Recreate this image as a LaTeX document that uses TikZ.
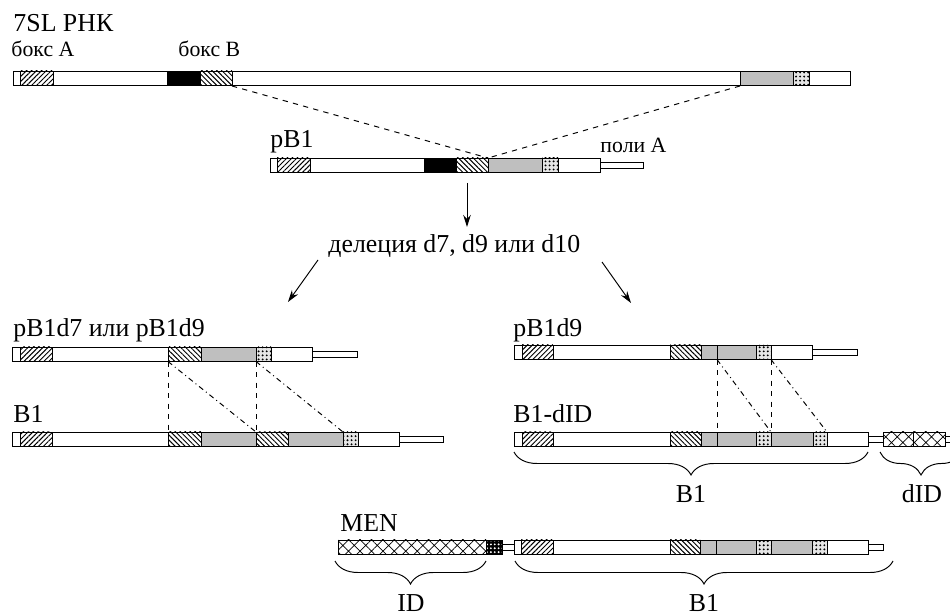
\documentclass[tikz,border=0pt]{standalone}
\usepackage{fontspec}
\setmainfont{Liberation Serif}
\usetikzlibrary{patterns,patterns.meta,arrows.meta,decorations.pathreplacing}
\newcommand{\segm}[4]{\draw[#1] (#2,#4) rectangle (#3,#4+14.5);}
\newcommand{\tailm}[3]{\draw[fill=white] (#1,#3+4) rectangle (#2,#3+10.5);}
\begin{document}
\begin{tikzpicture}[x=0.02cm,y=-0.02cm,line width=0.55pt,
  big/.style={font=\fontsize{14.7}{16}\selectfont,anchor=base west,inner sep=0pt},
  small/.style={font=\fontsize{12.4}{14}\selectfont,anchor=base west,inner sep=0pt},
  wht/.style={fill=white},
  boxa/.style={preaction={fill=white},pattern={Lines[angle=45,distance=2pt,line width=0.55pt]}},
  boxb/.style={preaction={fill=white},pattern={Lines[angle=-45,distance=2pt,line width=0.55pt]}},
  blk/.style={fill=black},
  gry/.style={fill=gray!50},
  dts/.style={preaction={fill=gray!20},pattern={Dots[distance=2.3pt,radius=0.6pt]}},
  idx/.style={preaction={fill=white},pattern={Hatch[angle=45,distance=4.6pt,line width=0.4pt]}},
  chk/.style={preaction={fill=black},pattern={Dots[distance=2.2pt,radius=0.6pt]},pattern color=white},
  brc/.style={decorate,decoration={brace,mirror,amplitude=0.46cm}},
  arr/.style={-{Stealth[length=2.4mm,width=1.5mm]}}]
\useasboundingbox (0,0) rectangle (950,614);

\node[big] (rna) at (13,32) {7SL РНК};
\node[small] (boxA) at (11,57) {бокс А};
\node[small] (boxB) at (178,57) {бокс В};
\segm{wht}{13}{20}{71}
\segm{boxa}{20}{53}{71}
\segm{wht}{53}{167}{71}
\segm{blk}{167}{200}{71}
\segm{boxb}{200}{232}{71}
\segm{wht}{232}{740}{71}
\segm{gry}{740}{793}{71}
\segm{dts}{793}{809}{71}
\segm{wht}{809}{850}{71}
\coordinate (rnaB) at (232,86);
\coordinate (rnaG) at (740,86);

\node[big] (pb1) at (270,148) {pB1};
\node[small] (polyA) at (600,153) {поли А};
\segm{wht}{270}{277}{158}
\segm{boxa}{277}{310}{158}
\segm{wht}{310}{424}{158}
\segm{blk}{424}{456}{158}
\segm{boxb}{456}{488}{158}
\segm{gry}{488}{542}{158}
\segm{dts}{542}{558}{158}
\segm{wht}{558}{600}{158}
\tailm{600}{643}{158}
\coordinate (pb1J) at (488,158);
\draw[dashed] (rnaB) -- (pb1J);
\draw[dashed] (rnaG) -- (pb1J);

\node[big] (del) at (328,253) {делеция d7, d9 или d10};
\coordinate (downA) at (467,183);
\coordinate (downB) at (467,227);
\coordinate (leftA) at (318,260);
\coordinate (leftB) at (288,302);
\coordinate (rightA) at (602,262);
\coordinate (rightB) at (631,303);
\draw[arr] (downA) -- (downB);
\draw[arr] (leftA) -- (leftB);
\draw[arr] (rightA) -- (rightB);

\node[big] (d7) at (13,337) {pB1d7 или pB1d9};
\segm{wht}{12}{20}{347}
\segm{boxa}{20}{52}{347}
\segm{wht}{52}{168}{347}
\segm{boxb}{168}{201}{347}
\segm{gry}{201}{256}{347}
\segm{dts}{256}{271}{347}
\segm{wht}{271}{312}{347}
\tailm{312}{357}{347}

\node[big] (b1l) at (13,423) {B1};
\segm{wht}{12}{20}{432}
\segm{boxa}{20}{52}{432}
\segm{wht}{52}{168}{432}
\segm{boxb}{168}{201}{432}
\segm{gry}{201}{256}{432}
\segm{boxb}{256}{288}{432}
\segm{gry}{288}{343}{432}
\segm{dts}{343}{358}{432}
\segm{wht}{358}{399}{432}
\tailm{399}{443}{432}
\coordinate (l1) at (168,361.5);
\coordinate (l2) at (256,361.5);
\coordinate (l3) at (168,432);
\coordinate (l4) at (256,432);
\coordinate (l5) at (343,432);
\draw[dashed] (l1) -- (l3);
\draw[dashed] (l2) -- (l4);
\draw[dash dot] (l1) -- (l4);
\draw[dash dot] (l2) -- (l5);

\node[big] (d9) at (513,337) {pB1d9};
\segm{wht}{514}{522}{345}
\segm{boxa}{522}{553}{345}
\segm{wht}{553}{670}{345}
\segm{boxb}{670}{701}{345}
\segm{gry}{701}{717}{345}
\segm{gry}{717}{756}{345}
\segm{dts}{756}{771}{345}
\segm{wht}{771}{812}{345}
\tailm{812}{857}{345}

\node[big] (bdid) at (513,423) {B1-dID};
\segm{wht}{514}{522}{432}
\segm{boxa}{522}{553}{432}
\segm{wht}{553}{670}{432}
\segm{boxb}{670}{701}{432}
\segm{gry}{701}{717}{432}
\segm{gry}{717}{756}{432}
\segm{dts}{756}{771}{432}
\segm{gry}{771}{813}{432}
\segm{dts}{813}{827}{432}
\segm{wht}{827}{868}{432}
\tailm{868}{883}{432}
\segm{idx}{883}{913}{432}
\segm{idx}{913}{945}{432}
\tailm{945}{962}{432}
\coordinate (r1) at (717,359.5);
\coordinate (r2) at (771,359.5);
\coordinate (r3) at (717,432);
\coordinate (r4) at (771,432);
\coordinate (r5) at (827,432);
\draw[dashed] (r1) -- (r3);
\draw[dashed] (r2) -- (r4);
\draw[dash dot] (r1) -- (r4);
\draw[dash dot] (r2) -- (r5);

\coordinate (bA) at (514,452);
\coordinate (bB) at (868,452);
\coordinate (dA) at (880,452);
\coordinate (dB) at (962,452);
\draw[brc] (bA) -- (bB);
\draw[brc] (dA) -- (dB);
\node[big,anchor=base] (b1u) at (691,503) {B1};
\node[big,anchor=base] (didu) at (922,503) {dID};

\node[big] (men) at (340,532) {MEN};
\segm{idx}{338}{486}{540}
\segm{chk}{486}{502}{540}
\tailm{502}{514}{540}
\segm{wht}{514}{521}{540}
\segm{boxa}{521}{553}{540}
\segm{wht}{553}{670}{540}
\segm{boxb}{670}{700}{540}
\segm{gry}{700}{716}{540}
\segm{gry}{716}{756}{540}
\segm{dts}{756}{771}{540}
\segm{gry}{771}{812}{540}
\segm{dts}{812}{827}{540}
\segm{wht}{827}{868}{540}
\tailm{868}{883}{540}

\coordinate (iA) at (335,561);
\coordinate (iB) at (486,561);
\coordinate (mA) at (515,561);
\coordinate (mB) at (893,561);
\draw[brc] (iA) -- (iB);
\draw[brc] (mA) -- (mB);
\node[big,anchor=base] (idl) at (411,611) {ID};
\node[big,anchor=base] (b1d) at (704,611) {B1};
\end{tikzpicture}
\end{document}
